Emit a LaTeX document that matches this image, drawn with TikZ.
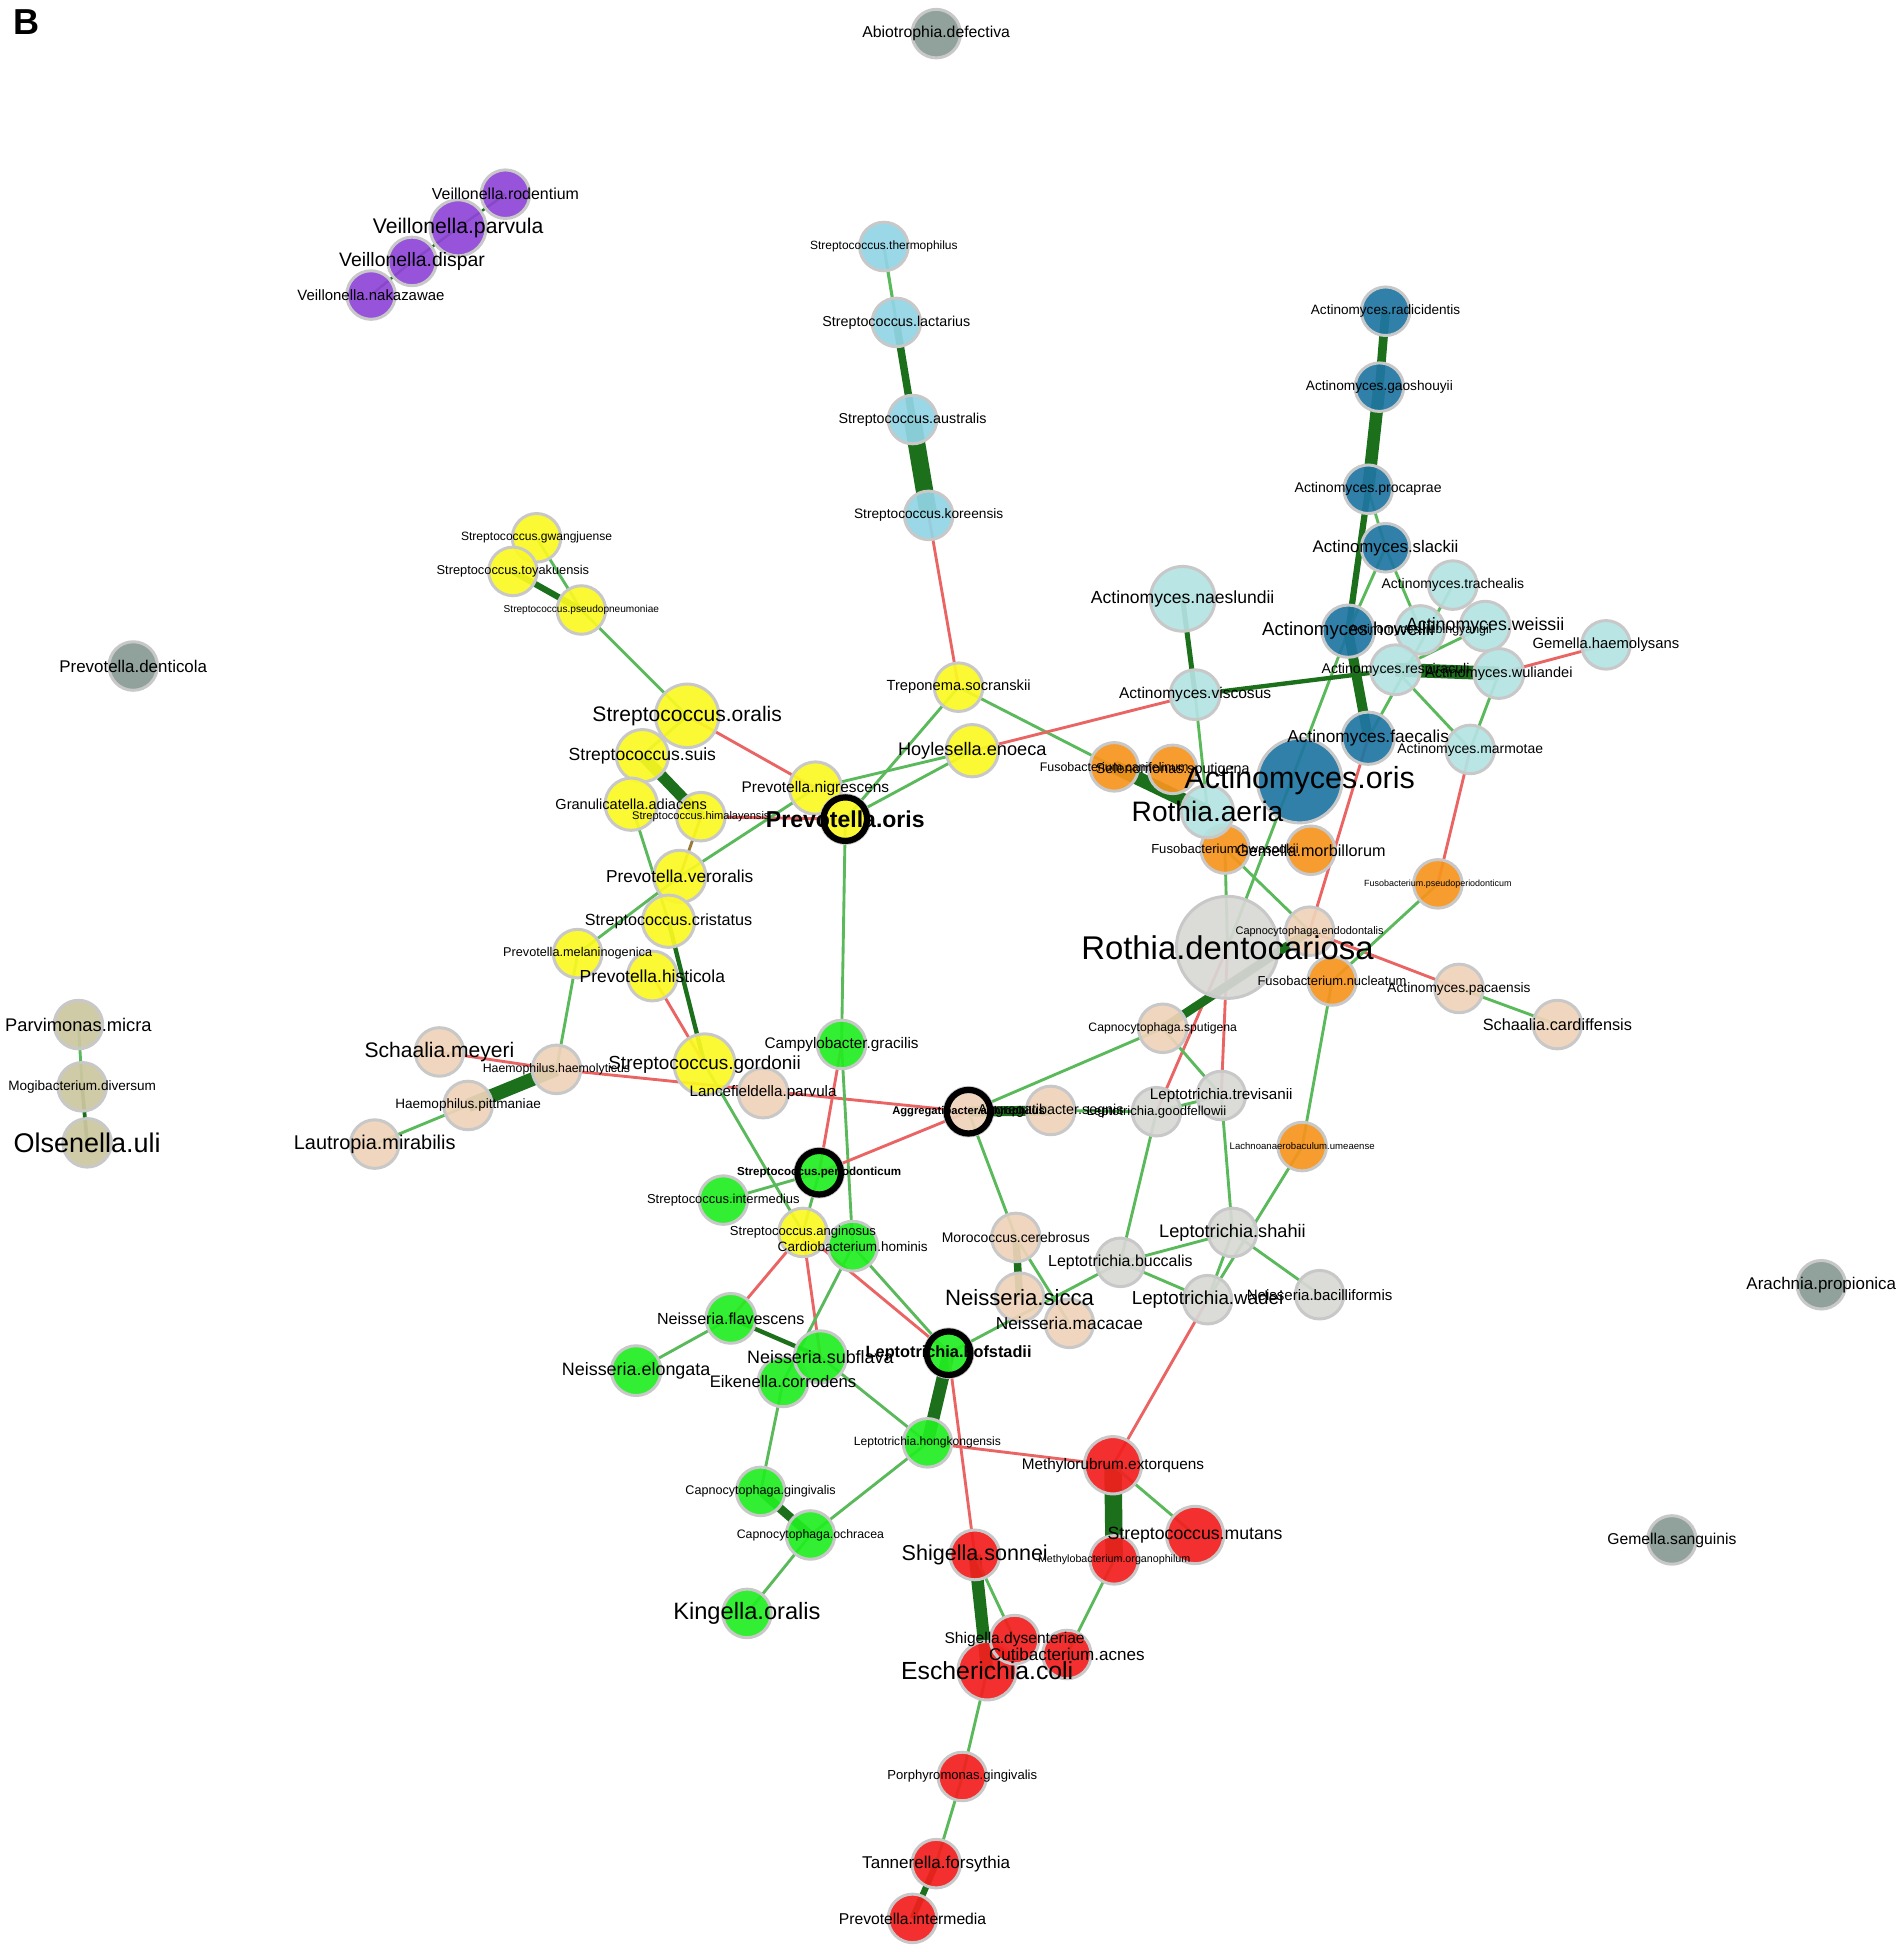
\documentclass[tikz,border=0pt]{standalone}
\usepackage{fontspec}
\setmainfont{Liberation Sans}
\definecolor{cgt}{HTML}{879B93}
\definecolor{cpu}{HTML}{9045D8}
\definecolor{clb}{HTML}{92D5E6}
\definecolor{cye}{HTML}{FBF922}
\definecolor{cpe}{HTML}{EFD3B9}
\definecolor{cgr}{HTML}{22EE22}
\definecolor{crd}{HTML}{F31E1E}
\definecolor{cgy}{HTML}{D8D8D5}
\definecolor{cor}{HTML}{F7941D}
\definecolor{cdb}{HTML}{1F76A2}
\definecolor{clt}{HTML}{B4E3E3}
\definecolor{col}{HTML}{CDC7A0}
\definecolor{ndb}{HTML}{C8C8C8}
\definecolor{elg}{RGB}{90,185,90}
\definecolor{edg}{RGB}{28,112,28}
\definecolor{erd}{RGB}{235,100,100}
\definecolor{eol}{HTML}{9A7A3A}
\pgfdeclarelayer{bg}
\pgfdeclarelayer{edges}
\pgfdeclarelayer{labels}
\pgfdeclarelayer{rings}
\pgfsetlayers{bg,edges,main,labels,rings}
\newcommand\Nd[7]{\node[nd,fill=#5,minimum size=#4*2pt] (#1) at (#2,#3) {};%
\begin{pgfonlayer}{labels}\node[lbl,font=\fontsize{#6}{#6}\selectfont] (#1-l) at (#2,#3) {#7};\end{pgfonlayer}}
\newcommand\Bd[7]{\node[nd,fill=#5,minimum size=#4*2pt] (#1) at (#2,#3) {};%
\begin{pgfonlayer}{labels}\node[lbl,font=\bfseries\fontsize{#6}{#6}\selectfont] (#1-l) at (#2,#3) {#7};\end{pgfonlayer}%
\begin{pgfonlayer}{rings}\node[ringc] (#1-r) at (#2,#3) {};\end{pgfonlayer}}
\newcommand\Ed[4]{\draw[#3,line width=#4pt] (#1.center) -- (#2.center);}
\begin{document}
\begin{tikzpicture}[x=1pt,y=-1pt,
  nd/.style={circle,draw=ndb,line width=2.4pt,inner sep=0pt,fill opacity=0.92},
  lbl/.style={inner sep=0pt,text=black},
  ringc/.style={circle,draw=black,line width=5pt,inner sep=0pt,minimum size=35pt},
  lg/.style={draw=elg}, dg/.style={draw=edg}, rd/.style={draw=erd}, ol/.style={draw=eol}]
\begin{pgfonlayer}{bg}
\fill[white] (0,0) rectangle (1528,1568);
\end{pgfonlayer}
\useasboundingbox (0,0) rectangle (1528,1568);
\node[font=\bfseries\fontsize{29}{29}\selectfont,inner sep=0pt] (panel) at (21,18) {B};
% grey isolated
\Nd{abio}{752}{27}{19.5}{cgt}{12.7}{Abiotrophia.defectiva}
\Nd{pden}{107}{535}{19.5}{cgt}{13.6}{Prevotella.denticola}
\Nd{arac}{1463}{1032}{19.5}{cgt}{13.6}{Arachnia.propionica}
\Nd{gsan}{1343}{1237}{19.5}{cgt}{12.6}{Gemella.sanguinis}
% purple
\Nd{vnak}{298}{237}{19.5}{cpu}{12}{Veillonella.nakazawae}
\Nd{vdis}{331}{210}{19.5}{cpu}{15.6}{Veillonella.dispar}
\Nd{vpar}{368}{183}{22.5}{cpu}{17}{Veillonella.parvula}
\Nd{vrod}{406}{156}{19.5}{cpu}{12.8}{Veillonella.rodentium}
% light blue
\Nd{sthe}{710}{198}{19.5}{clb}{9.6}{Streptococcus.thermophilus}
\Nd{slac}{720}{259}{19.5}{clb}{11.5}{Streptococcus.lactarius}
\Nd{saus}{733}{337}{19.5}{clb}{11.5}{Streptococcus.australis}
\Nd{skor}{746}{414}{19.5}{clb}{11}{Streptococcus.koreensis}
% yellow
\Nd{sgwa}{431}{432}{19.5}{cye}{9.7}{Streptococcus.gwangjuense}
\Nd{stoy}{412}{459}{19.5}{cye}{10.3}{Streptococcus.toyakuensis}
\Nd{spse}{467}{490}{19.5}{cye}{8.1}{Streptococcus.pseudopneumoniae}
\Nd{sora}{552}{575}{25.5}{cye}{16.9}{Streptococcus.oralis}
\Nd{ssui}{516}{607}{21}{cye}{14.1}{Streptococcus.suis}
\Nd{gran}{507}{646}{21}{cye}{11.7}{Granulicatella.adiacens}
\Nd{shim}{563}{656}{19.5}{cye}{8.9}{Streptococcus.himalayensis}
\Nd{pnig}{655}{633}{21}{cye}{12.4}{Prevotella.nigrescens}
\Nd{trep}{770}{552}{19.5}{cye}{11.8}{Treponema.socranskii}
\Nd{hoyl}{781}{603}{21}{cye}{14.6}{Hoylesella.enoeca}
\Nd{pver}{546}{704}{21}{cye}{13.9}{Prevotella.veroralis}
\Nd{scri}{537}{740}{21}{cye}{13}{Streptococcus.cristatus}
\Nd{pmel}{464}{766}{19.5}{cye}{10.2}{Prevotella.melaninogenica}
\Nd{phis}{524}{784}{20}{cye}{14}{Prevotella.histicola}
\Nd{sgor}{566}{855}{24.5}{cye}{15.2}{Streptococcus.gordonii}
\Bd{pori}{679}{658}{19.5}{cye}{18.5}{Prevotella.oris}
% peach
\Nd{smey}{353}{845}{19.5}{cpe}{16.9}{Schaalia.meyeri}
\Nd{laut}{301}{919}{19.5}{cpe}{16}{Lautropia.mirabilis}
\Nd{hpit}{376}{888}{19.5}{cpe}{10.9}{Haemophilus.pittmaniae}
\Nd{hhae}{447}{859}{19.5}{cpe}{9.9}{Haemophilus.haemolyticus}
\Nd{lanc}{613}{878}{20}{cpe}{12.2}{Lancefieldella.parvula}
\Nd{aseg}{844}{892}{19.5}{cpe}{11.5}{Aggregatibacter.segnis}
\Nd{mcer}{816}{994}{19.5}{cpe}{11.2}{Morococcus.cerebrosus}
\Nd{nsic}{819}{1042}{19.5}{cpe}{17.8}{Neisseria.sicca}
\Nd{nmac}{859}{1063}{19.5}{cpe}{13.9}{Neisseria.macacae}
\Nd{csput}{934}{826}{19.5}{cpe}{9.8}{Capnocytophaga.sputigena}
\Nd{apac}{1172}{794}{19.5}{cpe}{11}{Actinomyces.pacaensis}
\Nd{scar}{1251}{823}{19.5}{cpe}{13.1}{Schaalia.cardiffensis}
% green
\Nd{camp}{676}{839}{19.5}{cgr}{12.3}{Campylobacter.gracilis}
\Nd{sint}{581}{964}{19.5}{cgr}{10.4}{Streptococcus.intermedius}
\Nd{card}{685}{1001}{20}{cgr}{10.9}{Cardiobacterium.hominis}
\Nd{nfla}{587}{1059}{20}{cgr}{12.9}{Neisseria.flavescens}
\Nd{nelo}{511}{1101}{20}{cgr}{14.4}{Neisseria.elongata}
\Nd{eike}{629}{1110}{20}{cgr}{13.4}{Eikenella.corrodens}
\Nd{nsub}{659}{1090}{21}{cgr}{14.4}{Neisseria.subflava}
\Nd{lhon}{745}{1159}{19.5}{cgr}{9.7}{Leptotrichia.hongkongensis}
\Nd{cgin}{611}{1198}{19.5}{cgr}{10.1}{Capnocytophaga.gingivalis}
\Nd{coch}{651}{1233}{19.5}{cgr}{9.9}{Capnocytophaga.ochracea}
\Nd{king}{600}{1296}{19.5}{cgr}{19}{Kingella.oralis}
\Nd{sang}{645}{990}{19.5}{cye}{10.5}{Streptococcus.anginosus}
% red
\Nd{mext}{894}{1177}{23}{crd}{12.3}{Methylorubrum.extorquens}
\Nd{smut}{960}{1233}{23}{crd}{14.2}{Streptococcus.mutans}
\Nd{morg}{895}{1253}{19.5}{crd}{8.6}{Methylobacterium.organophilum}
\Nd{sson}{783}{1249}{20}{crd}{17.3}{Shigella.sonnei}
\Nd{ecol}{793}{1342}{23.5}{crd}{19.9}{Escherichia.coli}
\Nd{sdys}{815}{1317}{19.5}{crd}{12.5}{Shigella.dysenteriae}
\Nd{cacn}{857}{1329}{19.5}{crd}{13.7}{Cutibacterium.acnes}
\Nd{pgin}{773}{1427}{19.5}{crd}{10.5}{Porphyromonas.gingivalis}
\Nd{tann}{752}{1497}{19.5}{crd}{13.7}{Tannerella.forsythia}
\Nd{pint}{733}{1541}{19.5}{crd}{12.6}{Prevotella.intermedia}
% light grey
\Nd{lgoo}{929}{893}{19.5}{cgy}{10.5}{Leptotrichia.goodfellowii}
\Nd{ltre}{981}{880}{19.5}{cgy}{12.2}{Leptotrichia.trevisanii}
\Nd{lsha}{990}{990}{19.5}{cgy}{14.6}{Leptotrichia.shahii}
\Nd{lbuc}{900}{1014}{19.5}{cgy}{12.8}{Leptotrichia.buccalis}
\Nd{lwad}{970}{1044}{19.5}{cgy}{15.1}{Leptotrichia.wadei}
\Nd{nbac}{1060}{1040}{19.5}{cgy}{12.1}{Neisseria.bacilliformis}
% orange
\Nd{fcan}{895}{616}{19.5}{cor}{10}{Fusobacterium.canifelinum}
\Nd{ssput}{942}{618}{19.5}{cor}{11.5}{Selenomonas.sputigena}
\Nd{fhwa}{984}{682}{19.5}{cor}{10.5}{Fusobacterium.hwasookii}
\Nd{gmor}{1053}{683}{19.5}{cor}{13}{Gemella.morbillorum}
\Nd{fpse}{1155}{710}{19.5}{cor}{7.2}{Fusobacterium.pseudoperiodonticum}
\Nd{lach}{1046}{921}{19.5}{cor}{7.7}{Lachnoanaerobaculum.umeaense}
\Nd{cend}{1052}{748}{19.5}{cpe}{8.8}{Capnocytophaga.endodontalis}
\Nd{fnuc}{1070}{788}{19.5}{cor}{10.4}{Fusobacterium.nucleatum}
\Nd{rden}{986}{761}{41}{cgy}{26.4}{Rothia.dentocariosa}
% actinomyces
\Nd{anae}{950}{481}{26}{clt}{14.1}{Actinomyces.naeslundii}
\Nd{avis}{960}{558}{20}{clt}{12.5}{Actinomyces.viscosus}
\Nd{raer}{970}{652}{21}{clt}{22.6}{Rothia.aeria}
\Nd{arad}{1113}{250}{19.5}{cdb}{10.9}{Actinomyces.radicidentis}
\Nd{agao}{1108}{311}{19.5}{cdb}{11}{Actinomyces.gaoshouyii}
\Nd{aproc}{1099}{393}{19.5}{cdb}{11.3}{Actinomyces.procaprae}
\Nd{asla}{1113}{440}{19.5}{cdb}{13.5}{Actinomyces.slackii}
\Nd{atra}{1167}{470}{19.5}{clt}{11.2}{Actinomyces.trachealis}
\Nd{ahow}{1083}{507}{21}{cdb}{15}{Actinomyces.howellii}
\Nd{aliu}{1141}{506}{19.5}{clt}{10}{Actinomyces.liubingyangii}
\Nd{awei}{1193}{503}{20}{clt}{14.3}{Actinomyces.weissii}
\Nd{ghae}{1290}{518}{19.5}{clt}{11.9}{Gemella.haemolysans}
\Nd{aresp}{1121}{538}{20}{clt}{11.3}{Actinomyces.respiraculi}
\Nd{awul}{1204}{541}{20}{clt}{11.7}{Actinomyces.wuliandei}
\Nd{afae}{1099}{593}{21}{cdb}{13.9}{Actinomyces.faecalis}
\Nd{amar}{1181}{602}{19.5}{clt}{11.2}{Actinomyces.marmotae}
\Nd{aori}{1044}{627}{34}{cdb}{24.5}{Actinomyces.oris}
% olive
\Nd{parv}{63}{823}{19.5}{col}{14.7}{Parvimonas.micra}
\Nd{mogi}{66}{873}{19.5}{col}{10.9}{Mogibacterium.diversum}
\Nd{olse}{70}{918}{19.5}{col}{21.7}{Olsenella.uli}
% highlighted
\Bd{sper}{658}{942}{19.5}{cgr}{9.3}{Streptococcus.periodonticum}
\Bd{aaph}{778}{893}{19.5}{cpe}{9}{Aggregatibacter.aphrophilus}
\Bd{lhof}{762}{1087}{19.5}{cgr}{13.1}{Leptotrichia.hofstadii}
\begin{pgfonlayer}{edges}
\Ed{vrod}{vpar}{dg}{2}
\Ed{vpar}{vdis}{dg}{2}
\Ed{vdis}{vnak}{dg}{2}
\Ed{sthe}{slac}{lg}{2.5}
\Ed{slac}{saus}{dg}{6}
\Ed{saus}{skor}{dg}{14}
\Ed{skor}{trep}{rd}{2.3}
\Ed{sgwa}{spse}{lg}{2.3}
\Ed{stoy}{spse}{dg}{5}
\Ed{spse}{sora}{lg}{2.3}
\Ed{sora}{pnig}{rd}{2.3}
\Ed{sora}{ssui}{lg}{2.3}
\Ed{ssui}{shim}{dg}{9}
\Ed{shim}{pori}{rd}{2.3}
\Ed{shim}{pver}{ol}{2.3}
\Ed{gran}{scri}{lg}{2.3}
\Ed{pver}{pnig}{lg}{2.3}
\Ed{pmel}{pver}{lg}{2.3}
\Ed{scri}{sgor}{dg}{3.5}
\Ed{phis}{sgor}{rd}{2.3}
\Ed{pmel}{hhae}{lg}{2.3}
\Ed{smey}{hhae}{rd}{2.3}
\Ed{hhae}{hpit}{dg}{11}
\Ed{hpit}{laut}{lg}{2.3}
\Ed{hhae}{aaph}{rd}{2.3}
\Ed{trep}{pori}{lg}{2.3}
\Ed{trep}{fcan}{lg}{2.3}
\Ed{hoyl}{pnig}{lg}{2.3}
\Ed{hoyl}{pori}{lg}{2.3}
\Ed{hoyl}{avis}{rd}{2.3}
\Ed{pori}{camp}{lg}{2.3}
\Ed{camp}{card}{lg}{2.3}
\Ed{camp}{sper}{rd}{2.3}
\Ed{aaph}{sper}{rd}{2.3}
\Ed{sint}{sper}{lg}{2.3}
\Ed{sgor}{sang}{lg}{2.3}
\Ed{sper}{sang}{lg}{2.3}
\Ed{sang}{nfla}{rd}{2.3}
\Ed{sang}{nsub}{rd}{2.3}
\Ed{sang}{lhof}{rd}{2.3}
\Ed{card}{lhof}{lg}{2.3}
\Ed{card}{eike}{lg}{2.3}
\Ed{nfla}{nelo}{lg}{2.3}
\Ed{nfla}{nsub}{dg}{3.5}
\Ed{nsub}{lhon}{lg}{2.3}
\Ed{eike}{cgin}{lg}{2.3}
\Ed{cgin}{coch}{dg}{7}
\Ed{coch}{king}{lg}{2.3}
\Ed{coch}{lhon}{lg}{2.3}
\Ed{lhof}{lhon}{dg}{10}
\Ed{lhof}{sson}{rd}{2.3}
\Ed{lhof}{lbuc}{lg}{2.3}
\Ed{lhon}{mext}{rd}{2.3}
\Ed{mext}{morg}{dg}{14}
\Ed{mext}{smut}{lg}{2.3}
\Ed{morg}{cacn}{lg}{2.3}
\Ed{sson}{ecol}{dg}{10}
\Ed{sson}{sdys}{lg}{2.3}
\Ed{ecol}{pgin}{lg}{2.3}
\Ed{pgin}{tann}{lg}{2.3}
\Ed{tann}{pint}{dg}{5}
\Ed{lwad}{mext}{rd}{2.3}
\Ed{aaph}{aseg}{dg}{8}
\Ed{aaph}{mcer}{lg}{2.3}
\Ed{mcer}{nsic}{dg}{6}
\Ed{mcer}{nmac}{lg}{2.3}
\Ed{aseg}{lgoo}{lg}{2.3}
\Ed{lgoo}{ltre}{lg}{2.3}
\Ed{lgoo}{lbuc}{lg}{2.3}
\Ed{ltre}{lsha}{lg}{2.3}
\Ed{lsha}{lbuc}{lg}{2.3}
\Ed{lsha}{lwad}{lg}{2.3}
\Ed{lach}{lwad}{lg}{2.3}
\Ed{lsha}{nbac}{lg}{2.3}
\Ed{lbuc}{lwad}{lg}{2.3}
\Ed{rden}{ltre}{rd}{2.3}
\Ed{rden}{lgoo}{rd}{2.3}
\Ed{csput}{ltre}{lg}{2.3}
\Ed{aaph}{csput}{lg}{2.3}
\Ed{csput}{cend}{dg}{7}
\Ed{cend}{apac}{rd}{2.3}
\Ed{apac}{scar}{lg}{2.3}
\Ed{fnuc}{lach}{lg}{2.3}
\Ed{fpse}{fnuc}{lg}{2.3}
\Ed{amar}{fpse}{rd}{2.3}
\Ed{afae}{cend}{rd}{2.3}
\Ed{fhwa}{cend}{lg}{2.3}
\Ed{fhwa}{rden}{lg}{2.3}
\Ed{rden}{ahow}{lg}{2.3}
\Ed{fcan}{raer}{dg}{11}
\Ed{avis}{raer}{lg}{2.3}
\Ed{anae}{avis}{dg}{4}
\Ed{avis}{aresp}{dg}{3.5}
\Ed{arad}{agao}{dg}{7}
\Ed{agao}{aproc}{dg}{10}
\Ed{aproc}{asla}{lg}{2.3}
\Ed{aproc}{ahow}{dg}{5}
\Ed{ahow}{afae}{dg}{8}
\Ed{asla}{ahow}{lg}{2.3}
\Ed{asla}{aliu}{lg}{2.3}
\Ed{aresp}{awei}{lg}{2.3}
\Ed{atra}{afae}{lg}{2.3}
\Ed{aresp}{awul}{dg}{11}
\Ed{aresp}{amar}{lg}{2.3}
\Ed{awul}{amar}{lg}{2.3}
\Ed{awul}{ghae}{rd}{2.3}
\Ed{parv}{mogi}{lg}{2.3}
\Ed{mogi}{olse}{dg}{3}
\end{pgfonlayer}
\end{tikzpicture}
\end{document}
